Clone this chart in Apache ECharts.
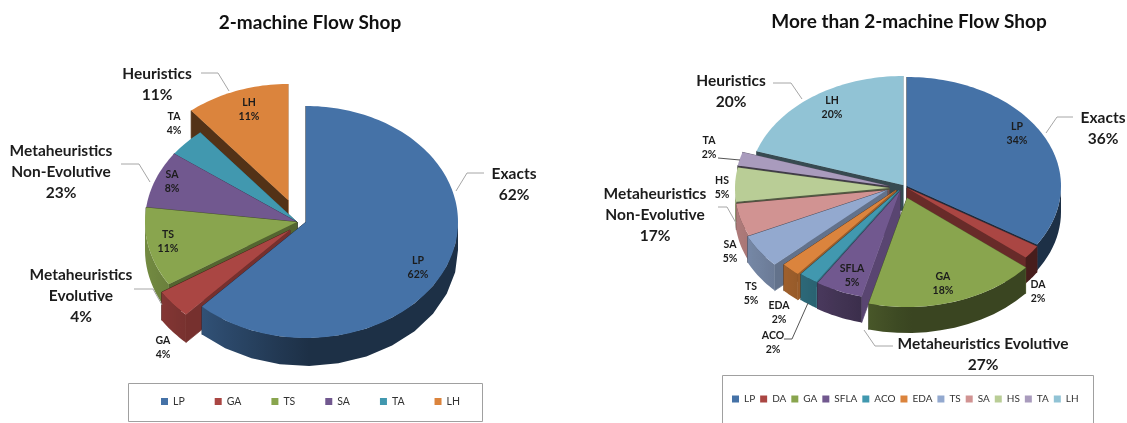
<!DOCTYPE html>
<html>
<head>
<meta charset="utf-8">
<style>html,body{margin:0;padding:0;background:#fff}#main{width:1127px;height:423px}</style>
<script src="https://cdn.jsdelivr.net/npm/echarts@6/dist/echarts.min.js"></script>
</head>
<body>
<div id="main"></div>
<script>
var leftNames=['LP','GA','TS','SA','TA','LH'];
var leftValues=[62,4,11,8,4,11];
var rightNames=['LP','DA','GA','SFLA','ACO','EDA','TS','SA','HS','TA','LH'];
var rightValues=[34,2,18,5,2,2,5,5,5,2,20];
var leftGroups=[['Heuristics','11%'],['Metaheuristics','Non-Evolutive','23%'],['Metaheuristics','Evolutive','4%'],['Exacts','62%']];
var rightGroups=[['Heuristics','20%'],['Metaheuristics','Non-Evolutive','17%'],['Metaheuristics Evolutive','27%'],['Exacts','36%']];
var titles=['2-machine Flow Shop','More than 2-machine Flow Shop'];

var leftColors=['#4572A7','#AA4643','#89A54E','#71588F','#4198AF','#DB843D'];
var rightColors=['#4572A7','#AA4643','#89A54E','#71588F','#4198AF','#DB843D','#93A9CF','#D19392','#B9CD96','#A99BBD','#91C3D5'];

// layout of the two pies: apex of each exploded slice, drawing order back to front
var leftPie={rx:152,ry:116,depth:28,
	centers:[[306,222],[290,230],[297,222],[297,222],[297,222],[288,200]],
	order:[5,4,3,2,1,0],
	labels:[[418,268],[163,348],[168,242],[172,182],[174,124],[249,110]],
	groupPos:[[157,84],[61,172],[81,296],[514,184]],
	leaders:[[[201,73],[218,73],[229,91]],[[121,164],[139,164],[150,182]],[[134,289],[153,289],[162,305]],[[484,173],[467,173],[456,191]]]};
var rightPie={rx:154,ry:109,depth:26,
	centers:[[907,186],[907,188],[907,198],[900,191],[899,190],[896,190],[887,190],[889,190],[889,188],[889,186],[903,185]],
	order:[10,9,8,7,6,5,4,3,0,1,2],
	labels:[[1017,134],[1038,292],[943,284],[852,276],[773,343],[779,313],[751,294],[730,252],[722,188],[709,148],[832,108]],
	groupPos:[[731,91],[655,215],[983,354],[1103,128]],
	leaders:[[[773,83],[791,83],[802,99]],[[718,207],[727,207],[736,223]],[[893,346],[875,346],[864,330]],[[1073,117],[1057,117],[1046,133]]],
	darkLeaders:[[[718,158],[740,160]],[[784,339],[792,339],[808,303]]]};

var rad=Math.PI/180;
var font='Lato, "Noto Sans", sans-serif';

function shade(hex,f){
	var n=parseInt(hex.slice(1),16);
	var r=Math.round((n>>16&255)*f),g=Math.round((n>>8&255)*f),b=Math.round((n&255)*f);
	return 'rgb('+r+','+g+','+b+')';
}
function pt(c,pie,deg,dy){
	return [c[0]+pie.rx*Math.sin(deg*rad),c[1]-pie.ry*Math.cos(deg*rad)+(dy||0)];
}
function poly(points,color,line){
	return {type:'polygon',silent:true,shape:{points:points},
		style:{fill:color,stroke:line?color:null,lineWidth:line?0.7:0}};
}
function faceColor(color,deg,isStart){
	var nx=isStart?-Math.cos(deg*rad):Math.cos(deg*rad);
	return shade(color,Math.max(0.38,0.4+0.4*nx));
}
function wallFactor(deg){
	var s=Math.sin(deg*rad);
	return s<0?0.42-0.42*s:0.42;
}
// the outer wall as one polygon, shaded left to right by a gradient
function wallItem(pie,c,color,from,to){
	var upper=[],lower=[],stops=[],i;
	var x0=pt(c,pie,to)[0],x1=pt(c,pie,from)[0];
	for(i=0;i<=12;i++){
		var a=from+(to-from)*i/12;
		upper.push(pt(c,pie,a));
		lower.unshift(pt(c,pie,a,pie.depth));
		stops.unshift({offset:(pt(c,pie,a)[0]-x0)/(x1-x0),color:shade(color,wallFactor(a))});
	}
	return {type:'polygon',silent:true,shape:{points:upper.concat(lower)},
		style:{fill:{type:'linear',global:true,x:x0,y:0,x2:x1,y2:0,colorStops:stops}}};
}
// one slice of a tilted pie: side faces, outer wall, then the top
function sliceItem(pie,c,color,a0,a1){
	var children=[],d=pie.depth,i;
	var apex=[c[0],c[1]],apexLow=[c[0],c[1]+d];
	children.push(poly([apex,pt(c,pie,a1),pt(c,pie,a1,d),apexLow],faceColor(color,a1,false),true));
	children.push(poly([apex,pt(c,pie,a0),pt(c,pie,a0,d),apexLow],faceColor(color,a0,true),true));
	var from=Math.max(a0,90),to=Math.min(a1,270);
	if(to>from){children.push(wallItem(pie,c,color,from,to));}
	var top=[apex];
	for(i=a0;i<a1;i+=1.5){top.push(pt(c,pie,i));}
	top.push(pt(c,pie,a1));
	children.push(poly(top,color,false));
	return {type:'group',children:children};
}
function pieSeries(names,values,colors,pie){
	var sum=0,total=0,starts=[],i;
	for(i=0;i<values.length;i++){total+=values[i];}
	for(i=0;i<values.length;i++){starts.push(sum);sum+=values[i];}
	return pie.order.map(function(k){
		return {
			type:'custom',name:names[k],coordinateSystem:'none',
			itemStyle:{color:colors[k]},
			data:[[values[k]]],
			renderItem:function(params,api){
				var a0=starts[k]/total*360;
				var a1=a0+api.value(0)/total*360;
				return sliceItem(pie,pie.centers[k],colors[k],a0,a1);
			}
		};
	});
}
function textEl(x,y,str,size,lh){
	return {type:'text',x:x,y:y,z:100,silent:true,style:{text:str,fill:'#1c1c1c',font:'bold '+size+'px '+font,
		align:'center',verticalAlign:'middle',lineHeight:lh}};
}
function lineEl(points,color){
	return {type:'polyline',z:90,silent:true,shape:{points:points},style:{stroke:color,lineWidth:1,fill:null}};
}
function annotations(names,values,groups,pie){
	var out=[];
	names.forEach(function(n,i){
		out.push(textEl(pie.labels[i][0],pie.labels[i][1],n+'\n'+values[i]+'%',10.5,14));
	});
	groups.forEach(function(g,i){
		out.push(textEl(pie.groupPos[i][0],pie.groupPos[i][1],g.join('\n'),15.5,21));
		out.push(lineEl(pie.leaders[i],'#a6a6a6'));
	});
	(pie.darkLeaders||[]).forEach(function(l){out.push(lineEl(l,'#555'));});
	return out;
}
function legendOf(names,colors,left,top,gap,size){
	return {left:left,top:top,padding:0,orient:'horizontal',icon:'rect',itemWidth:7,itemHeight:7,itemGap:gap,selectedMode:false,
		textStyle:{fontFamily:font,fontSize:size,color:'#333'},
		data:names.map(function(n,i){return {name:n,itemStyle:{color:colors[i]}};})};
}

var graphics=annotations(leftNames,leftValues,leftGroups,leftPie).concat(annotations(rightNames,rightValues,rightGroups,rightPie));
// legend frames
graphics.push({type:'rect',silent:true,shape:{x:128.5,y:383.5,width:354,height:38},style:{fill:'#fff',stroke:'#a0a0a0',lineWidth:1}});
graphics.push({type:'polyline',silent:true,shape:{points:[[722.5,423],[722.5,375.5],[1093.5,375.5],[1093.5,423]]},style:{stroke:'#a0a0a0',lineWidth:1,fill:null}});

var myChart=echarts.init(document.getElementById('main'),null,{renderer:'canvas'});
var option={
	animation:false,
	backgroundColor:'#fff',
	title:[
		{text:titles[0],left:305,top:8,textAlign:'center',textStyle:{fontFamily:font,fontSize:19,fontWeight:'bold',color:'#111'}},
		{text:titles[1],left:904,top:7,textAlign:'center',textStyle:{fontFamily:font,fontSize:19,fontWeight:'bold',color:'#111'}}
	],
	legend:[
		legendOf(leftNames,leftColors,161,396,30,10.5),
		legendOf(rightNames,rightColors,732,394,5,10)
	],
	graphic:graphics,
	series:pieSeries(leftNames,leftValues,leftColors,leftPie).concat(pieSeries(rightNames,rightValues,rightColors,rightPie))
};
myChart.setOption(option);
</script>
</body>
</html>
